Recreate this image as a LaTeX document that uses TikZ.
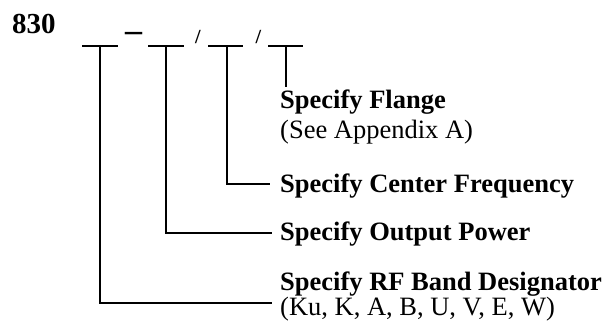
\documentclass[tikz,border=0pt]{standalone}
\usepackage{fontspec}
\setmainfont{Liberation Serif}
\usetikzlibrary{positioning}

\begin{document}
\begin{tikzpicture}[x=1pt,y=-1pt,
        wire/.style={line width=2pt},
        head/.style={anchor=base west,inner sep=0pt,font=\fontsize{26.5}{30}\selectfont\bfseries},
        note/.style={anchor=base west,inner sep=0pt,font=\fontsize{26.5}{30}\selectfont},
        sep/.style={anchor=base,inner sep=0pt,font=\fontsize{20}{24}\selectfont\bfseries}]
        \useasboundingbox (0,0) rectangle (607,326);

        % part number and blanks
        \node[anchor=base west,inner sep=0pt,font=\fontsize{29}{32}\selectfont\bfseries] (pn) at (12,34) {830};
        \draw[wire] (82,46) -- (118,46);
        \draw[wire] (148,46) -- (184,46);
        \draw[wire] (208,46) -- (243,46);
        \draw[wire] (268,46) -- (303,46);
        \node[sep,font=\fontsize{34}{36}\selectfont\bfseries] (dash) at (133.5,41.5) {–};
        \node[sep] (slasha) at (198,44) {/};
        \node[sep] (slashb) at (258.5,44) {/};

        \coordinate (b1) at (100,46);
        \coordinate (b2) at (166,46);
        \coordinate (b3) at (227,46);
        \coordinate (b4) at (286,46);

        % labels
        \node[head] (flange) at (280,109) {Specify Flange};
        \node[note] (flangenote) at (280,138) {(See Appendix A)};
        \node[head] (freq) at (280,192) {Specify Center Frequency};
        \node[head] (power) at (280,240) {Specify Output Power};
        \node[head] (band) at (280,290) {Specify RF Band Designator};
        \node[note] (bandnote) at (280,315) {(Ku, K, A, B, U, V, E, W)};

        \coordinate (e4) at (286,87);
        \coordinate (e3) at (270,184);
        \coordinate (e2) at (272,233);
        \coordinate (e1) at (272,303);

        % leaders
        \draw[wire] (b4) -- (e4);
        \draw[wire] (b3) |- (e3);
        \draw[wire] (b2) |- (e2);
        \draw[wire] (b1) |- (e1);
    \end{tikzpicture}
\end{document}
